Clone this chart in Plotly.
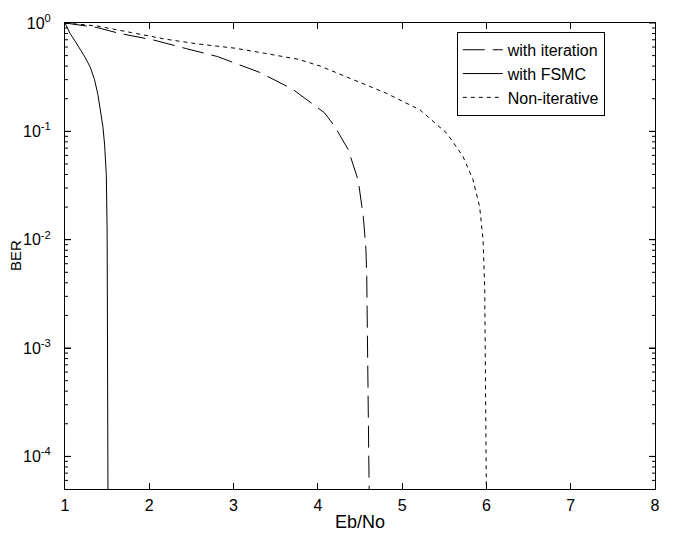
import plotly.graph_objects as go

# Data
ebno_iter = [1.0, 1.376, 1.65, 2.04, 2.44, 2.81, 3.31, 3.70, 4.08, 4.20, 4.36, 4.48, 4.54, 4.57, 4.58, 4.59, 4.60, 4.61]
ber_iter = [1.0, 0.91, 0.80, 0.70, 0.58, 0.49, 0.35, 0.245, 0.148, 0.111, 0.068, 0.035, 0.016, 0.0083, 0.0046, 0.00105, 0.00034, 4e-5]

ebno_fsmc = [1.0, 1.06, 1.12, 1.18, 1.24, 1.30, 1.35, 1.39, 1.42, 1.45, 1.47, 1.49, 1.50, 1.505, 1.51]
ber_fsmc = [1.0, 0.80, 0.68, 0.57, 0.48, 0.39, 0.30, 0.22, 0.16, 0.11, 0.075, 0.04, 0.012, 1e-3, 4e-5]

ebno_non = [1.0, 1.376, 1.79, 2.19, 2.58, 3.02, 3.37, 3.77, 4.03, 4.42, 4.81, 5.21, 5.53, 5.72, 5.84, 5.92, 5.96, 5.98, 5.99, 6.0]
ber_non = [1.0, 0.94, 0.815, 0.71, 0.64, 0.585, 0.525, 0.462, 0.40, 0.30, 0.225, 0.158, 0.096, 0.059, 0.036, 0.020, 0.010, 0.0035, 0.00068, 4e-5]

x_ticks = [1, 2, 3, 4, 5, 6, 7, 8]
y_major_vals = [1, 1e-1, 1e-2, 1e-3, 1e-4]
y_major_text = ["10<sup>0</sup>", "10<sup>-1</sup>", "10<sup>-2</sup>", "10<sup>-3</sup>", "10<sup>-4</sup>"]
y_minor_vals = [m * 10.0 ** e for e in range(-5, 0) for m in range(2, 10)]

FONT = "Liberation Sans, Arial, sans-serif"
Y_RANGE = [-4.301, 0]
PLOT_W = 676 - 65 - 21

fig = go.Figure()
fig.add_trace(go.Scatter(x=ebno_iter, y=ber_iter, mode="lines", name="with iteration",
                         line=dict(color="black", width=1, dash="22px,8px")))
fig.add_trace(go.Scatter(x=ebno_fsmc, y=ber_fsmc, mode="lines", name="with FSMC",
                         line=dict(color="black", width=1)))
fig.add_trace(go.Scatter(x=ebno_non, y=ber_non, mode="lines", name="Non-iterative",
                         line=dict(color="black", width=1, dash="4px,4px")))

minor_in_range = [v for v in y_minor_vals if v >= 10 ** Y_RANGE[0]]

# y-axis tick marks on both sides (log scale, data values)
for vals, length in ((y_major_vals, 6), (minor_in_range, 3)):
    frac = length / PLOT_W
    for v in vals:
        for x0, x1 in ((0, frac), (1 - frac, 1)):
            fig.add_shape(type="line", xref="x domain", yref="y",
                          x0=x0, x1=x1, y0=v, y1=v,
                          line=dict(color="black", width=1))

fig.update_layout(
    width=676, height=542,
    margin=dict(l=65, r=21, t=23, b=53, autoexpand=False),
    paper_bgcolor="white", plot_bgcolor="white",
    font=dict(family=FONT, size=15, color="black"),
    showlegend=True,
    legend=dict(x=0.664, y=0.981, xanchor="left", yanchor="top",
                bordercolor="black", borderwidth=1, bgcolor="white",
                font=dict(size=16), itemwidth=40, tracegroupgap=0),
    xaxis=dict(
        range=[1, 8], tickvals=x_ticks, showgrid=False, zeroline=False,
        showline=True, linecolor="black", linewidth=1, mirror="allticks",
        ticks="inside", ticklen=6, tickwidth=1, tickcolor="black", tickfont=dict(size=16),
        ticklabelstandoff=2,
        title=dict(text="Eb/No", standoff=2),
    ),
    yaxis=dict(
        type="log", range=Y_RANGE, tickmode="array", tickvals=y_major_vals, ticktext=y_major_text,
        showgrid=False, zeroline=False,
        showline=True, linecolor="black", linewidth=1, mirror="allticks",
        ticks="inside", ticklen=6, tickwidth=1, tickcolor="black", tickfont=dict(size=16),
        ticklabelstandoff=10,
    ),
    annotations=[dict(text="BER", textangle=-90, xref="paper", yref="paper",
                      x=0, y=0.5, xshift=-50, xanchor="center", yanchor="middle",
                      showarrow=False, font=dict(size=15))],
)

fig.write_html("out.html")
